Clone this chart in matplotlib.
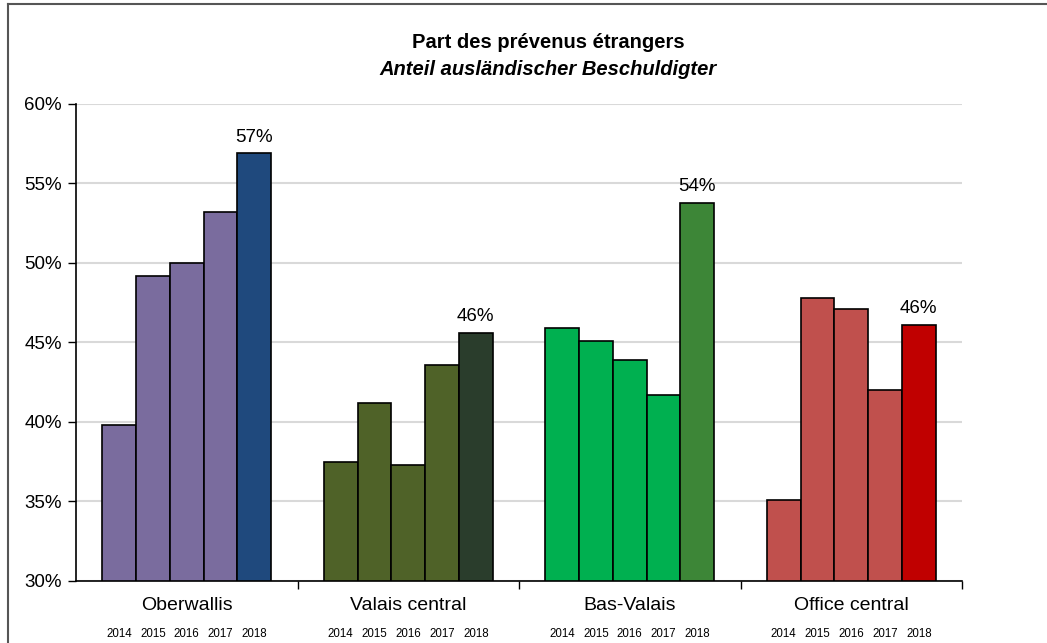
import matplotlib.pyplot as plt
from matplotlib.lines import Line2D
import matplotlib.transforms as mtransforms
import numpy as np

plt.rcParams['font.family'] = ['Liberation Sans', 'DejaVu Sans']

regions = ['Oberwallis', 'Valais central', 'Bas-Valais', 'Office central']
years = ['2014', '2015', '2016', '2017', '2018']
shares = {
    'Oberwallis': [39.8, 49.2, 50.0, 53.2, 56.9],
    'Valais central': [37.5, 41.2, 37.3, 43.6, 45.6],
    'Bas-Valais': [45.9, 45.1, 43.9, 41.7, 53.8],
    'Office central': [35.1, 47.8, 47.1, 42.0, 46.1],
}
labels_2018 = ['57%', '46%', '54%', '46%']

# colour of the 2014-2017 bars, then of the 2018 bar
base_colors = ['#7A6C9E', '#4F6228', '#00B050', '#C0504D']
last_colors = ['#1F497D', '#2A3D2C', '#3D8637', '#C00000']

W, H = 1047, 643
fig = plt.figure(figsize=(W / 100, H / 100), dpi=100)
ax = fig.add_axes([76 / W, 1 - 580.7 / H, (962 - 76) / W, (580.7 - 104) / H])
trans = mtransforms.blended_transform_factory(ax.transData, fig.transFigure)

bw = 0.1526
for i, reg in enumerate(regions):
    vals = np.array(shares[reg])
    xs = i + 0.5 + (np.arange(5) - 2) * bw
    cols = [base_colors[i]] * 4 + [last_colors[i]]
    ax.bar(xs, vals - 30, bottom=30, width=bw, color=cols,
           edgecolor='black', linewidth=1.2, zorder=3)
    ax.text(xs[-1], vals[-1] + 0.72, labels_2018[i], ha='center', va='baseline',
            fontsize=13.5)
    ax.text(i + 0.5, 1 - 610 / H, reg, ha='center', va='baseline',
            fontsize=14, transform=trans)
    for x, y in zip(xs, years):
        ax.text(x, 1 - 637 / H, y, ha='center', va='baseline',
                fontsize=8.3, transform=trans)

ax.set_xlim(0, 4)
ax.set_ylim(30, 60)
ax.set_yticks(np.arange(30, 61, 5))
ax.set_yticklabels(['{}%'.format(v) for v in range(30, 61, 5)], fontsize=13.5)
ax.set_xticks([1, 2, 3, 4])
ax.set_xticklabels([])
ax.tick_params(axis='x', direction='out', length=6, width=1)
ax.tick_params(axis='y', direction='out', length=6, width=1, pad=4)
ax.grid(axis='y', color='#D9D9D9', linewidth=1.5, zorder=0)
ax.set_axisbelow(True)
for s in ['top', 'right']:
    ax.spines[s].set_visible(False)
for s in ['left', 'bottom']:
    ax.spines[s].set_linewidth(1.2)

fig.text(548 / W, 1 - 48 / H, 'Part des prévenus étrangers', ha='center',
         va='baseline', fontsize=14.5, fontweight='bold')
fig.text(548 / W, 1 - 75 / H, 'Anteil ausländischer Beschuldigter', ha='center',
         va='baseline', fontsize=14.5, fontweight='bold', style='italic')

# chart frame (only top and left edges visible in the crop)
fig.add_artist(Line2D([8 / W, 8 / W], [0, 1 - 4 / H], transform=fig.transFigure,
                      color='#555555', linewidth=1.5))
fig.add_artist(Line2D([8 / W, 1], [1 - 4 / H, 1 - 4 / H], transform=fig.transFigure,
                      color='#555555', linewidth=1.5))

fig.savefig('out.png', dpi=100)
